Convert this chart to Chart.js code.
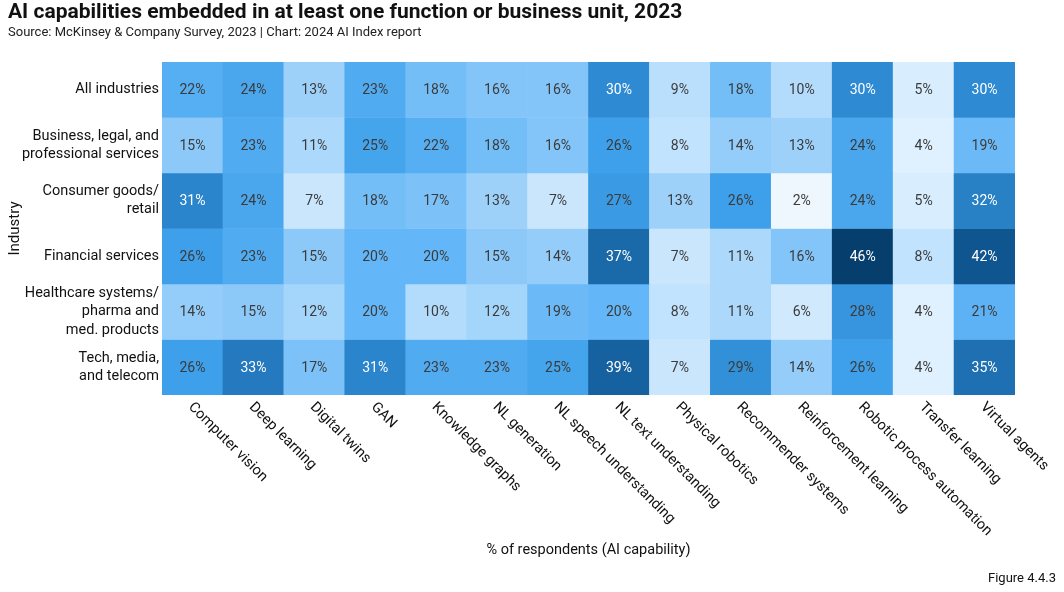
<!DOCTYPE html>
<html>
<head>
<meta charset="utf-8">
<script src="https://cdn.jsdelivr.net/npm/chart.js@4.4.1/dist/chart.umd.min.js"></script>
<style>
    html, body { margin: 0; padding: 0; background: #ffffff; }
    #wrap { width: 1064px; height: 592px; }
</style>
</head>
<body>
<div id="wrap"><canvas id="heatmap" width="1064" height="592"></canvas></div>
<script>
const capabilities = ['Computer vision', 'Deep learning', 'Digital twins', 'GAN', 'Knowledge graphs', 'NL generation',
    'NL speech understanding', 'NL text understanding', 'Physical robotics', 'Recommender systems',
    'Reinforcement learning', 'Robotic process automation', 'Transfer learning', 'Virtual agents'];

const industries = [
    ['All industries'],
    ['Business, legal, and', 'professional services'],
    ['Consumer goods/', 'retail'],
    ['Financial services'],
    ['Healthcare systems/', 'pharma and', 'med. products'],
    ['Tech, media,', 'and telecom']
];

// % of respondents, one array per industry, in capability order
const allIndustries = [22, 24, 13, 23, 18, 16, 16, 30, 9, 18, 10, 30, 5, 30];
const businessLegal = [15, 23, 11, 25, 22, 18, 16, 26, 8, 14, 13, 24, 4, 19];
const consumerGoods = [31, 24, 7, 18, 17, 13, 7, 27, 13, 26, 2, 24, 5, 32];
const financialServices = [26, 23, 15, 20, 20, 15, 14, 37, 7, 11, 16, 46, 8, 42];
const healthcare = [14, 15, 12, 20, 10, 12, 19, 20, 8, 11, 6, 28, 4, 21];
const techMedia = [26, 33, 17, 31, 23, 23, 25, 39, 7, 29, 14, 26, 4, 35];

const rows = [allIndustries, businessLegal, consumerGoods, financialServices, healthcare, techMedia];

// colour scale stops: [value, colour]
const colorStops = [
    [2, '#eef7fe'], [7, '#c9e6fd'], [13, '#9dd1fa'], [20, '#63b6f7'], [26, '#3ea0ea'],
    [30, '#2e8ad2'], [35, '#1f70b2'], [42, '#0f5690'], [46, '#063e6e']
];

function hexToRgb(hex) {
    const n = parseInt(hex.slice(1), 16);
    return [(n >> 16) & 255, (n >> 8) & 255, n & 255];
}

function cellColor(v) {
    for (let i = 1; i < colorStops.length; i++) {
        const [v1, c1] = colorStops[i];
        const [v0, c0] = colorStops[i - 1];
        if (v <= v1) {
            const t = (v - v0) / (v1 - v0);
            const a = hexToRgb(c0), b = hexToRgb(c1);
            const rgb = a.map((x, k) => Math.round(x + (b[k] - x) * t));
            return `rgb(${rgb[0]}, ${rgb[1]}, ${rgb[2]})`;
        }
    }
    return colorStops[colorStops.length - 1][1];
}

Chart.defaults.font.family = 'Roboto, "Liberation Sans", sans-serif';
Chart.defaults.color = '#111111';

const cellText = {
    id: 'cellText',
    afterDatasetsDraw(chart) {
        const ctx = chart.ctx;
        ctx.save();
        ctx.font = '14px Roboto';
        ctx.textAlign = 'center';
        ctx.textBaseline = 'middle';
        chart.data.datasets.forEach((ds, i) => {
            chart.getDatasetMeta(i).data.forEach((bar, j) => {
                const v = ds.values[j];
                const p = bar.getCenterPoint();
                ctx.fillStyle = v >= 30 ? '#ffffff' : '#3b3b3b';
                ctx.fillText(v + '%', p.x, p.y + 1);
            });
        });
        ctx.restore();
    }
};

// x labels run down-right from each column, Chart.js only rotates them the other way
const slantedLabels = {
    id: 'slantedLabels',
    afterDraw(chart) {
        const ctx = chart.ctx;
        const xScale = chart.scales.x;
        const bottom = chart.chartArea.bottom;
        ctx.save();
        ctx.font = '14.5px Roboto';
        ctx.fillStyle = '#111111';
        ctx.textAlign = 'left';
        ctx.textBaseline = 'middle';
        capabilities.forEach((label, j) => {
            const x = xScale.getPixelForValue(j);
            ctx.save();
            ctx.translate(x - 2, bottom + 10);
            ctx.rotate(Math.PI / 4);
            ctx.fillText(label, 0, 0);
            ctx.restore();
        });
        ctx.textAlign = 'right';
        ctx.font = '13px Roboto';
        ctx.fillText('Figure 4.4.3', 1056, 579);
        ctx.restore();
    }
};

const ctx = document.getElementById('heatmap').getContext('2d');

new Chart(ctx, {
    type: 'bar',
    data: {
        labels: capabilities,
        datasets: rows.map((vals, i) => ({
            label: industries[i].join(' '),
            data: vals.map(() => 1),
            values: vals,
            backgroundColor: vals.map(cellColor),
            borderWidth: 0,
            barPercentage: 1,
            categoryPercentage: 1
        }))
    },
    options: {
        responsive: false,
        animation: false,
        layout: {
            padding: { left: 8, right: 49, top: 0, bottom: 0 }
        },
        plugins: {
            legend: { display: false },
            tooltip: { enabled: false },
            title: {
                display: true,
                text: 'AI capabilities embedded in at least one function or business unit, 2023',
                align: 'start',
                color: '#111111',
                font: { size: 21, weight: 'bold', lineHeight: 1.1 },
                padding: { top: 1, bottom: 1 }
            },
            subtitle: {
                display: true,
                text: 'Source: McKinsey & Company Survey, 2023 | Chart: 2024 AI Index report',
                align: 'start',
                color: '#222222',
                font: { size: 13, lineHeight: 1.2 },
                padding: { top: 0, bottom: 21.3 }
            }
        },
        scales: {
            x: {
                stacked: true,
                grid: { display: false, drawTicks: false },
                border: { display: false },
                ticks: { display: false },
                title: {
                    display: true,
                    text: '% of respondents (AI capability)',
                    color: '#111111',
                    font: { size: 14.5, lineHeight: 1.2 },
                    padding: { top: 0, bottom: 33 }
                },
                afterFit: function (scale) {
                    scale.height = 197;
                }
            },
            y: {
                stacked: true,
                reverse: true,
                min: 0,
                max: 6,
                grid: { display: false, drawTicks: false },
                border: { display: false },
                afterBuildTicks: function (scale) {
                    scale.ticks = industries.map((_, i) => ({ value: i + 0.5 }));
                },
                ticks: {
                    autoSkip: false,
                    color: '#111111',
                    padding: 3,
                    font: { size: 14.5, lineHeight: 1.25 },
                    callback: function (value) {
                        return industries[Math.floor(value)];
                    }
                },
                title: {
                    display: true,
                    text: 'Industry',
                    color: '#111111',
                    font: { size: 15, lineHeight: 1 },
                    padding: { top: 0, bottom: 0 }
                },
                afterFit: function (scale) {
                    scale.width = 154;
                }
            }
        }
    },
    plugins: [cellText, slantedLabels]
});
</script>
</body>
</html>
